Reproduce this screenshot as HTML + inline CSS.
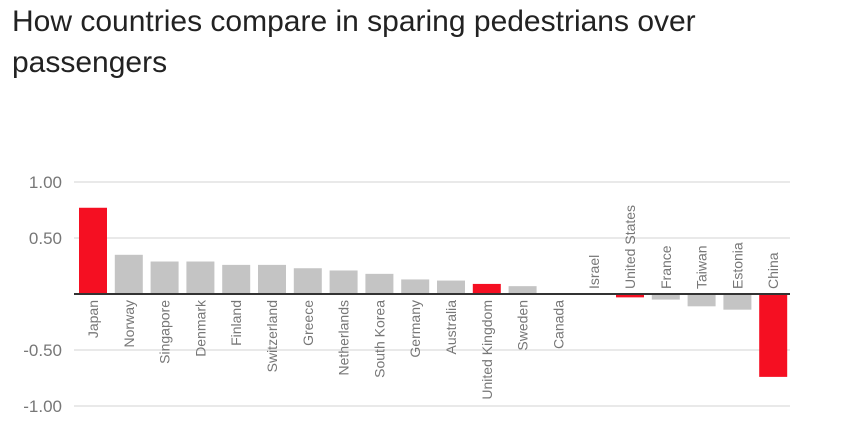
<!DOCTYPE html>
<html><head><meta charset="utf-8"><style>
body{margin:0;background:#fff;width:853px;height:435px;overflow:hidden;font-family:"Liberation Sans",sans-serif}
h1{position:absolute;left:12px;top:1px;margin:0;font-weight:normal;font-size:30px;line-height:41px;color:#222;width:800px}
svg{position:absolute;left:0;top:0}
</style></head><body>
<h1>How countries compare in sparing pedestrians over passengers</h1>
<svg id="c" width="853" height="435"></svg>
<script>
const categories=["Japan","Norway","Singapore","Denmark","Finland","Switzerland","Greece","Netherlands","South Korea","Germany","Australia","United Kingdom","Sweden","Canada","Israel","United States","France","Taiwan","Estonia","China"];
const values=[0.77,0.35,0.29,0.29,0.26,0.26,0.23,0.21,0.18,0.13,0.12,0.09,0.07,0,0,-0.03,-0.05,-0.11,-0.14,-0.74];
const highlighted=["Japan","United Kingdom","United States","China"];
const ticks=[1,0.5,-0.5,-1];
const tickLabels=["1.00","0.50","-0.50","-1.00"];
const svg=document.getElementById('c');const NS='http://www.w3.org/2000/svg';
const y=v=>294-v*112;
const step=35.8,x0=79,bw=28;
const x=i=>x0+i*step;
function mk(t,a){const e=document.createElementNS(NS,t);for(const k in a)e.setAttribute(k,a[k]);svg.appendChild(e);return e;}
ticks.forEach((t,i)=>{
const g=mk('line',{x1:74,x2:790,y1:y(t),y2:y(t),stroke:'#e2e2e2','stroke-width':1.5});


const l=mk('text',{x:62,y:y(t)+6,'text-anchor':'end','font-size':17,fill:'#777'});l.textContent=tickLabels[i];


});
categories.forEach((c,i)=>{
const v=values[i];
const r=mk('rect',{x:x(i),width:bw,y:Math.min(y(v),y(0)),height:Math.abs(y(v)-y(0)),fill:highlighted.includes(c)?'#f50f22':'#c4c4c4'});


const cx=x(i)+bw/2+5;
const neg=v<0||(c==="Israel");
const ty=neg?289:300;
const t=mk('text',{x:cx,y:ty,transform:`rotate(-90 ${cx} ${ty})`,'text-anchor':neg?'start':'end','font-size':14,fill:'#777'});
t.textContent=c;


});
const z=mk('line',{x1:74,x2:790,y1:y(0),y2:y(0),stroke:'#333','stroke-width':2});


</script>
</body></html>
